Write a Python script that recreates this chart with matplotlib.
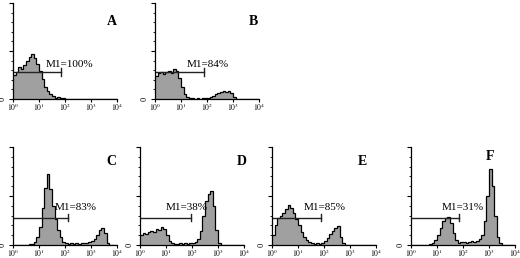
import numpy as np
import matplotlib
matplotlib.use('Agg')
import matplotlib.pyplot as plt

plt.rcParams['font.family'] = 'Liberation Serif'
plt.rcParams['mathtext.fontset'] = 'stix'

# histogram heights (fraction of axis height), 10 bins per decade, 10^0 .. 10^4
hist_a = [0.25, 0.28, 0.33, 0.31, 0.35, 0.40, 0.44, 0.47, 0.43, 0.36,
          0.29, 0.21, 0.13, 0.08, 0.05, 0.03, 0.015, 0.02, 0.01, 0.015,
          0.005, 0.0, 0.005, 0.0, 0.0, 0.0, 0.0, 0.0, 0.0, 0.0,
          0.0, 0.0, 0.0, 0.0, 0.0, 0.0, 0.0, 0.0, 0.0, 0.0]
hist_b = [0.24, 0.27, 0.28, 0.26, 0.28, 0.29, 0.27, 0.31, 0.29, 0.22,
          0.12, 0.05, 0.02, 0.01, 0.01, 0.005, 0.01, 0.005, 0.01, 0.01,
          0.015, 0.02, 0.03, 0.05, 0.06, 0.07, 0.08, 0.075, 0.08, 0.06,
          0.02, 0.005, 0.0, 0.0, 0.0, 0.0, 0.0, 0.0, 0.0, 0.0]
hist_c = [0.0, 0.0, 0.0, 0.0, 0.005, 0.005, 0.01, 0.01, 0.03, 0.08,
          0.18, 0.38, 0.58, 0.72, 0.57, 0.40, 0.27, 0.15, 0.08, 0.03,
          0.02, 0.015, 0.02, 0.01, 0.02, 0.015, 0.02, 0.025, 0.02, 0.03,
          0.04, 0.06, 0.10, 0.15, 0.17, 0.12, 0.02, 0.0, 0.0, 0.0]
hist_d = [0.10, 0.12, 0.11, 0.13, 0.14, 0.13, 0.16, 0.15, 0.18, 0.16,
          0.10, 0.04, 0.02, 0.015, 0.01, 0.02, 0.01, 0.02, 0.015, 0.02,
          0.025, 0.03, 0.06, 0.14, 0.30, 0.45, 0.52, 0.55, 0.40, 0.15,
          0.02, 0.005, 0.0, 0.0, 0.0, 0.0, 0.0, 0.0, 0.0, 0.0]
hist_e = [0.10, 0.20, 0.28, 0.30, 0.33, 0.37, 0.41, 0.38, 0.33, 0.27,
          0.20, 0.13, 0.08, 0.05, 0.03, 0.02, 0.015, 0.02, 0.01, 0.025,
          0.04, 0.07, 0.11, 0.14, 0.17, 0.19, 0.08, 0.02, 0.005, 0.0,
          0.0, 0.0, 0.0, 0.0, 0.0, 0.0, 0.0, 0.0, 0.0, 0.0]
hist_f = [0.0, 0.0, 0.0, 0.0, 0.0, 0.0, 0.005, 0.01, 0.02, 0.05,
          0.10, 0.17, 0.24, 0.28, 0.29, 0.22, 0.12, 0.05, 0.02, 0.03,
          0.03, 0.02, 0.03, 0.04, 0.035, 0.04, 0.06, 0.10, 0.25, 0.50,
          0.78, 0.60, 0.30, 0.08, 0.02, 0.005, 0.0, 0.0, 0.0, 0.0]

labels = ['A', 'B', 'C', 'D', 'E', 'F']
gate_text = ['M1=100%', 'M1=84%', 'M1=83%', 'M1=38%', 'M1=85%', 'M1=31%']
gate_end = [10**1.85, 10**1.88, 10**2.12, 10**1.95, 10**1.9, 10**1.86]
text_pos = [(10**1.27, 0.36), (10**1.23, 0.36), (10**1.6, 0.38),
            (10**1.0, 0.38), (10**1.22, 0.38), (10**1.18, 0.38)]
letter_pos = [(0.95, 0.81), (0.95, 0.81), (0.95, 0.85),
              (0.98, 0.85), (0.87, 0.85), (0.76, 0.90)]
hists = [hist_a, hist_b, hist_c, hist_d, hist_e, hist_f]

# axes rectangles in pixels: left, top, bottom
W, H = 520, 258
boxes = [(13, 3, 99), (155, 3, 99), (13, 147, 245),
         (140, 147, 245), (272, 147, 245), (411, 147, 245)]

fig = plt.figure(figsize=(5.2, 2.58), dpi=100)
edges = 10 ** np.linspace(0, 4, 41)

for i in range(6):
    l, t, b = boxes[i]
    ax = fig.add_axes([l / W, (H - b) / H, 104 / W, (b - t) / H])
    ax.stairs(hists[i], edges, fill=True, color='#a0a0a0', baseline=0)
    ax.stairs(hists[i], edges, color='black', lw=0.9, baseline=None)
    ax.set_xscale('log')
    ax.set_xlim(1, 10**4)
    ax.set_ylim(0, 1)
    for s in ['top', 'right']:
        ax.spines[s].set_visible(False)
    ax.spines['left'].set_linewidth(0.9)
    ax.spines['bottom'].set_linewidth(0.9)
    ax.set_xticks([1, 10, 100, 1000, 10000])
    ax.set_xticklabels([r'$10^{%d}$' % k for k in range(5)], fontsize=5.5)
    ax.tick_params(axis='x', which='major', length=2, width=0.8, pad=0)
    ax.tick_params(axis='x', which='minor', length=1.2, width=0.6)
    ax.set_yticks([0, 0.5, 1.0])
    ax.set_yticks(np.arange(0.1, 1.0, 0.1), minor=True)
    ax.set_yticklabels(['', '', ''])
    ax.tick_params(axis='y', which='major', length=3, width=0.8)
    ax.tick_params(axis='y', which='minor', length=1.5, width=0.6)
    ax.text(-0.06, 0.0, '0', transform=ax.transAxes, rotation=90,
            fontsize=6, ha='right', va='center')

    # M1 gate
    ax.plot([1, gate_end[i]], [0.28, 0.28], color='#222222', lw=1)
    ax.plot([gate_end[i], gate_end[i]], [0.24, 0.32], color='#222222', lw=1)
    ax.text(text_pos[i][0], text_pos[i][1], gate_text[i], fontsize=8,
            ha='left', va='center')
    ax.text(letter_pos[i][0], letter_pos[i][1], labels[i], transform=ax.transAxes,
            fontsize=10, fontweight='bold', ha='center', va='center')

fig.savefig('out.png', dpi=100)
